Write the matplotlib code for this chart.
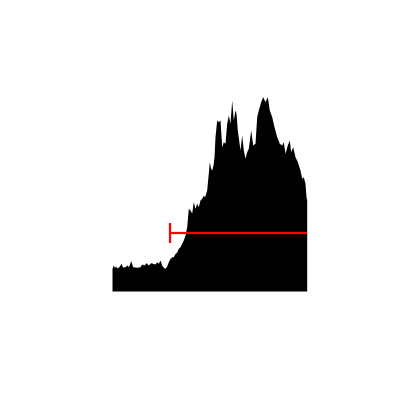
import matplotlib
matplotlib.use("Agg")
import matplotlib.pyplot as plt

# time index and series values
t = [0, 1.3, 2.5, 3.5, 5, 7, 9, 10.5, 13, 15, 16.5, 18.7, 20.7, 24.7, 28, 29.7,
     32, 34, 36.3, 38.7, 40.7, 43, 44.7, 46.3, 48, 49.7, 51.3, 53, 54.7, 56.3,
     58, 60, 61.3, 63, 64.7, 66.3, 68, 69.7, 71.3, 73, 74.7, 76.3, 78, 79.7,
     81.3, 83, 84.7, 86.3, 88, 89.7, 91.3, 92.5, 94.7, 96.3, 97.3, 98.5, 99.7,
     101, 102, 103, 104.7, 106.3, 108, 109.7, 111.3, 113, 114.7, 116.3, 118,
     119.7, 121.3, 123, 124, 125.3, 128, 129.7, 131.3, 133, 134.7, 136.3, 138.7,
     140.7, 143, 144.7, 146.3, 148.7, 150.7, 153, 155.3, 157.3, 159.7, 162,
     164.7, 167.3, 169.7, 171.3, 173, 175.3, 177.3, 178.7, 180.7, 183, 185.3,
     188, 189.7, 191.3, 193, 194, 194.7]
values = [22.7, 26, 23.5, 25, 23, 24.5, 27.7, 24, 24.3, 26, 24.3, 30.3, 24.3, 23.7,
          24.3, 27, 26, 28.3, 26, 28.3, 27.7, 27, 29.3, 27.7, 31, 26, 23.7, 22.7,
          25, 29.3, 32.7, 34.3, 34.3, 37.5, 39, 42.7, 44.3, 47.7, 51, 56, 64.3,
          82.7, 81, 78, 89.3, 82.7, 87.7, 84.3, 91, 92.7, 96, 94, 101, 118, 129.3,
          123, 121, 126, 134.3, 154.3, 171, 169.3, 171, 144.3, 149.3, 147.7, 167.7,
          176, 167.7, 191, 171, 181, 177.7, 161, 141, 156, 141, 132.7, 139.3,
          142.7, 161, 146, 147.7, 174.3, 181, 189.3, 194.3, 189.3, 194.3, 181,
          174.3, 164.3, 154.3, 147.7, 146, 149.3, 137.7, 146, 151, 139.3, 144.3,
          134.3, 129.3, 121, 112.7, 114.3, 107.7, 94.3, 91]

# reference level (red line) and its start
ref_level = 58.5
ref_start = 58

fig = plt.figure(figsize=(4.2, 4.2), dpi=100)
ax = fig.add_axes([112 / 420, (420 - 291) / 420, 194.7 / 420, 195 / 420])
ax.fill_between(t, 0, values, color="black", linewidth=0)
ax.plot([ref_start, t[-1]], [ref_level, ref_level], color="#ff0000", linewidth=1.6,
        solid_capstyle="butt")
ax.plot([ref_start], [ref_level], marker="|", markersize=14.5, markeredgewidth=1.6,
        color="#ff0000")
ax.set_xlim(0, t[-1])
ax.set_ylim(0, 195)
ax.axis("off")
fig.savefig("out.png", dpi=100)
